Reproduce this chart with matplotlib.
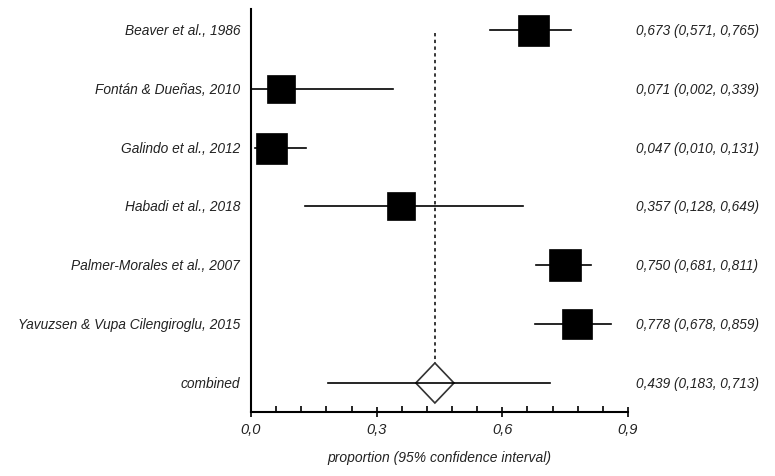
import matplotlib
matplotlib.use("Agg")
import matplotlib.pyplot as plt
from matplotlib.ticker import FixedLocator

studies = ["Beaver et al., 1986", "Fontán & Dueñas, 2010", "Galindo et al., 2012",
           "Habadi et al., 2018", "Palmer-Morales et al., 2007",
           "Yavuzsen & Vupa Cilengiroglu, 2015"]
est = [0.673, 0.071, 0.047, 0.357, 0.750, 0.778]
lo = [0.571, 0.002, 0.010, 0.128, 0.681, 0.678]
hi = [0.765, 0.339, 0.131, 0.649, 0.811, 0.859]
weights = [31, 28, 31, 28, 32, 30]
comb_label = "combined"
comb_est, comb_lo, comb_hi = 0.439, 0.183, 0.713
major_ticks = [0.0, 0.3, 0.6, 0.9]
tick_labels = ["0,0", "0,3", "0,6", "0,9"]
minor_ticks = [0.06, 0.12, 0.18, 0.24, 0.36, 0.42, 0.48, 0.54, 0.66, 0.72, 0.78, 0.84]

def fmt(v):
    return f"{v:.3f}".replace(".", ",")

plt.rcParams['font.family'] = ['Liberation Sans', 'DejaVu Sans']
fig = plt.figure(figsize=(7.75, 4.77), dpi=100)
ax = fig.add_axes([251/775, 1-413/477, (628-251)/775, (413-10)/477])

n = len(studies)
for i in range(n):
    ax.plot([lo[i], hi[i]], [i, i], color='black', lw=1.2, zorder=2)
    ax.plot(est[i], i, marker='s', ms=weights[i]*0.72, color='black', mec='black',
            mew=0.5, zorder=3)

yc = n
ax.plot([comb_lo, comb_hi], [yc, yc], color='black', lw=1.2, zorder=2)
dx = 0.0455
dy = 0.34
ax.fill([comb_est - dx, comb_est, comb_est + dx, comb_est],
        [yc, yc - dy, yc, yc + dy], facecolor='white', edgecolor='#333333', lw=1.2, zorder=3)
ax.plot([comb_est - dx, comb_est + dx], [yc, yc], color='black', lw=1.2, zorder=4)
ax.plot([comb_est, comb_est], [0.05, yc - dy], color='black', lw=1.1,
        linestyle=(0, (2.2, 2.2)), zorder=1)

ax.set_xlim(0, 0.9)
ax.set_ylim(n + 0.493, -0.357)
ax.spines['top'].set_visible(False)
ax.spines['right'].set_visible(False)
ax.spines['left'].set_linewidth(1.5)
ax.spines['bottom'].set_linewidth(1.5)
ax.set_yticks([])
ax.xaxis.set_major_locator(FixedLocator(major_ticks))
ax.xaxis.set_minor_locator(FixedLocator(minor_ticks))
ax.set_xticklabels(tick_labels, fontstyle='italic', fontsize=10.5, color='#222222')
ax.tick_params(axis='x', which='major', direction='inout', length=7, width=1.2, pad=4)
ax.tick_params(axis='x', which='minor', direction='in', length=4, width=1.2)
ax.set_xlabel("proportion (95% confidence interval)", fontstyle='italic', fontsize=10,
              labelpad=10, color='#222222')

labels = studies + [comb_label]
ests = est + [comb_est]
los = lo + [comb_lo]
his = hi + [comb_hi]
for i, lab in enumerate(labels):
    ax.text(-0.026, i, lab, ha='right', va='center', fontstyle='italic', fontsize=9.9,
            color='#222222', clip_on=False)
    ax.text(0.92, i, f"{fmt(ests[i])} ({fmt(los[i])}, {fmt(his[i])})", ha='left',
            va='center', fontstyle='italic', fontsize=9.8, color='#222222', clip_on=False)

fig.savefig("out.png", dpi=100)
